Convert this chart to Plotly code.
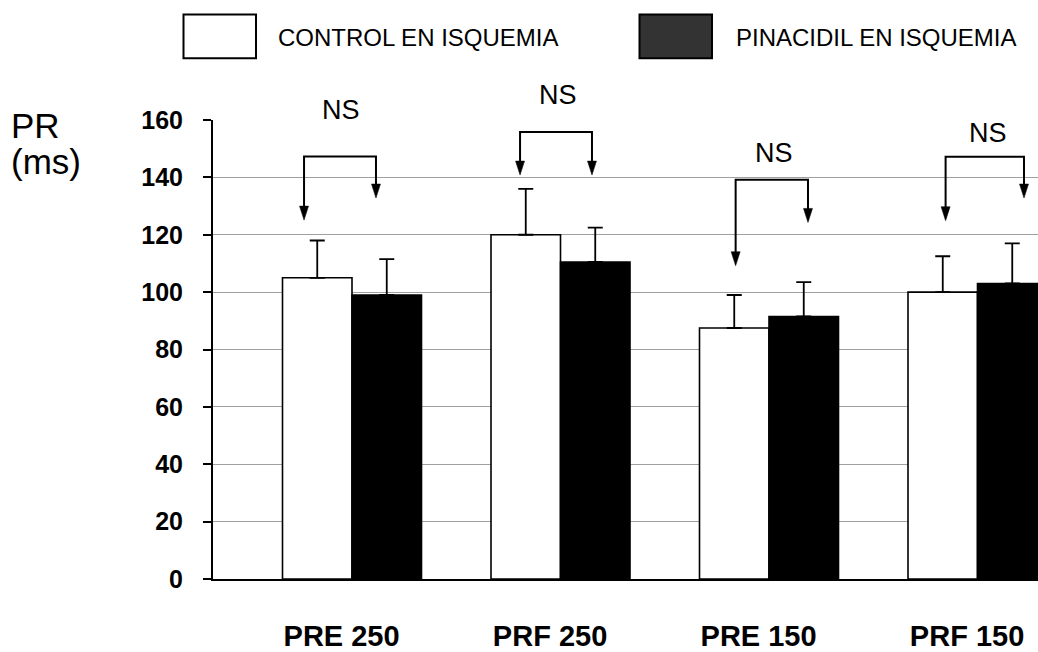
import plotly.graph_objects as go

# ---- data -------------------------------------------------------------
groups = ["PRE 250", "PRF 250", "PRE 150", "PRF 150"]
control = [105, 120, 87.5, 100]          # CONTROL EN ISQUEMIA (ms)
control_sd = [13, 16, 11.5, 12.5]
pinacidil = [99, 110.5, 91.5, 103]       # PINACIDIL EN ISQUEMIA (ms)
pinacidil_sd = [12.5, 12, 12, 14]
y_ticks = [0, 20, 40, 60, 80, 100, 120, 140, 160]
Y_MAX = 160

# "NS" comparison brackets (per group): stem offsets from the group centre,
# bracket top, and the heights where each arrow ends
ns_left = [-0.23, -0.194, -0.16, -0.153]
ns_right = [0.115, 0.151, 0.187, 0.223]
ns_top = [147.3, 155.8, 139.2, 147.2]
ns_tip_left = [125.1, 140.8, 109.2, 124.9]
ns_tip_right = [132.8, 140.8, 124.3, 132.8]
ns_label_dx = [-0.053, -0.014, 0.022, 0.048]
ns_label_y = [163.5, 168.7, 148.6, 155.4]

FONT = "Liberation Sans, Arial, sans-serif"
W, H = 1038, 652
ML, MR, MT, MB = 213, 0, 120, 65
PW, PH = W - ML - MR, H - MT - MB

def paper_x(px):
    return (px - ML) / PW

def paper_y(py):
    return (H - MB - py) / PH

xs = list(range(len(groups)))
BW = 1 / 3

fig = go.Figure()
fig.add_trace(go.Bar(
    x=xs, y=control, width=BW, offset=-BW, name="CONTROL EN ISQUEMIA",
    marker=dict(color="white", line=dict(color="black", width=1.6)),
    error_y=dict(type="data", symmetric=False, array=control_sd,
                 arrayminus=[0] * len(xs), color="black", thickness=1.8, width=7.5),
))
fig.add_trace(go.Bar(
    x=xs, y=pinacidil, width=BW, offset=0, name="PINACIDIL EN ISQUEMIA",
    marker=dict(color="black", line=dict(color="black", width=1.6)),
    error_y=dict(type="data", symmetric=False, array=pinacidil_sd,
                 arrayminus=[0] * len(xs), color="black", thickness=1.8, width=7.5),
))

shapes = []
annotations = []

# brackets with down-pointing arrowheads
head = "M -4.5,14 L 4.5,14 L 0,0 Z"
for i in xs:
    xl, xr = i + ns_left[i], i + ns_right[i]
    shapes.append(dict(
        type="path", xref="x", yref="y",
        path=(f"M {xl},{ns_tip_left[i] + 3} L {xl},{ns_top[i]} "
              f"L {xr},{ns_top[i]} L {xr},{ns_tip_right[i] + 3}"),
        line=dict(color="black", width=2),
    ))
    for xx, yy in ((xl, ns_tip_left[i]), (xr, ns_tip_right[i])):
        shapes.append(dict(
            type="path", xref="x", yref="y",
            xsizemode="pixel", ysizemode="pixel", xanchor=xx, yanchor=yy,
            path=head, fillcolor="black", line=dict(color="black", width=0.5),
        ))
    # label may sit above the top of the value range, so place it in paper units
    annotations.append(dict(
        x=i + ns_label_dx[i], y=ns_label_y[i] / Y_MAX, xref="x", yref="paper",
        text="NS", showarrow=False, xanchor="center", yanchor="middle",
        font=dict(family=FONT, size=27, color="black"),
    ))

# legend boxes and labels
legend_items = [
    ("CONTROL EN ISQUEMIA", "white", 183.5, 276),
    ("PINACIDIL EN ISQUEMIA", "#333333", 639.5, 734),
]
for label, fill, bx, tx in legend_items:
    shapes.append(dict(
        type="rect", xref="paper", yref="paper",
        x0=paper_x(bx), x1=paper_x(bx + 72.5),
        y0=paper_y(57.3), y1=paper_y(12.7),
        fillcolor=fill, line=dict(color="black", width=2),
    ))
    annotations.append(dict(
        x=paper_x(tx), y=paper_y(36), xref="paper", yref="paper",
        text=label, showarrow=False, xanchor="left", yanchor="middle",
        font=dict(family=FONT, size=24, color="black"),
    ))

# axis title
annotations.append(dict(
    x=paper_x(9), y=paper_y(126), xref="paper", yref="paper",
    text="PR", showarrow=False, xanchor="left", yanchor="middle",
    font=dict(family=FONT, size=35, color="black"),
))
annotations.append(dict(
    x=paper_x(9), y=paper_y(162), xref="paper", yref="paper",
    text="(ms)", showarrow=False, xanchor="left", yanchor="middle",
    font=dict(family=FONT, size=35, color="black"),
))

fig.update_layout(
    width=W, height=H,
    margin=dict(l=ML, r=MR, t=MT, b=MB, pad=0),
    paper_bgcolor="white", plot_bgcolor="white",
    barmode="overlay", showlegend=False,
    shapes=shapes, annotations=annotations,
    font=dict(family=FONT, color="black"),
)
fig.update_xaxes(
    range=[-2 / 3, (1038 - 352) / 208.5],
    tickvals=[i - 0.05 for i in xs], ticktext=groups,
    tickfont=dict(family=FONT, size=29, color="black", weight="bold"),
    ticks="", ticklabelstandoff=30,
    showline=True, linecolor="black", linewidth=2,
    showgrid=False, zeroline=False, fixedrange=True,
)
fig.update_yaxes(
    range=[0, Y_MAX], tickvals=y_ticks,
    tickfont=dict(family=FONT, size=25, color="black", weight="bold"),
    ticks="outside", ticklen=8, tickwidth=1.5, tickcolor="black",
    ticklabelstandoff=15,
    showline=True, linecolor="black", linewidth=2,
    showgrid=True, gridcolor="#a0a0a0", gridwidth=1,
    zeroline=False, fixedrange=True,
)

fig.write_html("out.html")
